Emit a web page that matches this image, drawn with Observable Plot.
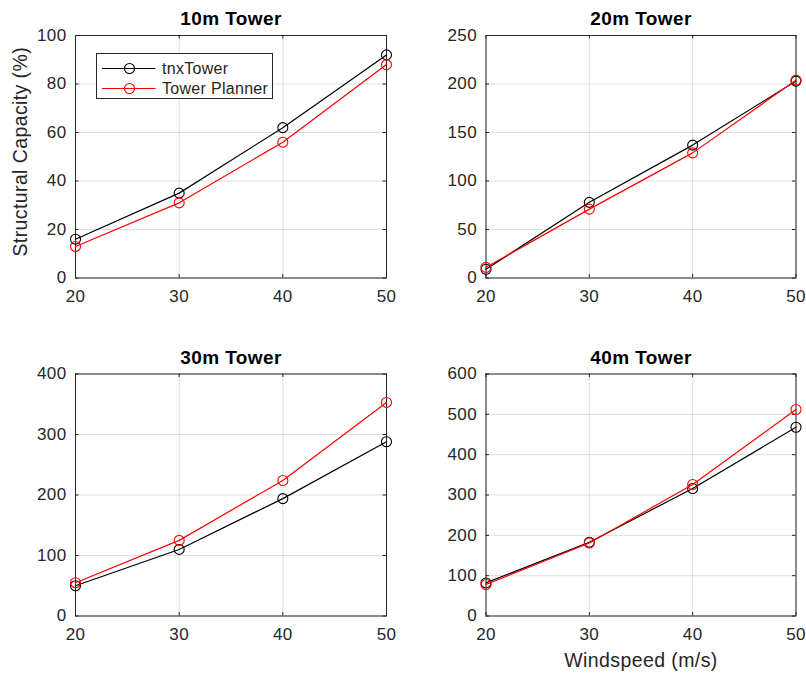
<!DOCTYPE html>
<html><head><meta charset="utf-8">
<script src="https://cdn.jsdelivr.net/npm/d3@7"></script>
<script src="https://cdn.jsdelivr.net/npm/@observablehq/plot@0.6"></script>
<style>
body{margin:0;background:#fff;}
#wrap{position:relative;width:806px;height:673px;background:#fff;font-family:"Liberation Sans",Arial,sans-serif;overflow:hidden;}
.panel{position:absolute;}
.legend{position:absolute;background:#fff;border:1px solid #262626;box-sizing:border-box;}
</style></head><body><div id="wrap"></div>
<script>
// ---- data ----
const windspeeds = [20, 30, 40, 50];
const titles = ["10m Tower", "20m Tower", "30m Tower", "40m Tower"];
const seriesNames = ["tnxTower", "Tower Planner"];
const seriesColors = ["#000000", "#ff0000"];
const tnxTower10 = [16, 35, 62, 92];
const planner10 = [13, 31, 56, 88];
const tnxTower20 = [9, 78, 137, 203];
const planner20 = [11, 71, 129, 204];
const tnxTower30 = [50, 110, 194, 288];
const planner30 = [55, 125, 224, 353];
const tnxTower40 = [82, 183, 316, 468];
const planner40 = [78, 181, 326, 512];
const yDomains = [[0, 100], [0, 250], [0, 400], [0, 600]];
const yTicks = [[0, 20, 40, 60, 80, 100], [0, 50, 100, 150, 200, 250], [0, 100, 200, 300, 400], [0, 100, 200, 300, 400, 500, 600]];
const yLabel = "Structural Capacity (%)";
const xLabel = "Windspeed (m/s)";

const series = [[tnxTower10, planner10], [tnxTower20, planner20], [tnxTower30, planner30], [tnxTower40, planner40]];

// ---- layout ----
const layouts = [
  {left: 0, top: 0, w: 403, h: 336, ml: 75, mr: 17, mt: 35, mb: 58.5},
  {left: 403, top: 0, w: 403, h: 336, ml: 82.5, mr: 10.5, mt: 35, mb: 58.5},
  {left: 0, top: 336, w: 403, h: 337, ml: 75, mr: 17, mt: 37.5, mb: 57.5},
  {left: 403, top: 336, w: 403, h: 337, ml: 82.5, mr: 10.5, mt: 37.5, mb: 57.5}
];
const axisColor = "#262626";
const tickLen = 3.5;
const wrap = document.getElementById("wrap");

layouts.forEach((L, i) => {
  const innerW = L.w - L.ml - L.mr;
  const innerH = L.h - L.mt - L.mb;
  const [tnx, planner] = series[i];
  const marks = [
    Plot.gridX(windspeeds, {stroke: axisColor, strokeOpacity: 0.15}),
    Plot.gridY(yTicks[i], {stroke: axisColor, strokeOpacity: 0.15}),
    Plot.tickX(windspeeds, {x: d => d, stroke: axisColor, insetTop: innerH - tickLen}),
    Plot.tickX(windspeeds, {x: d => d, stroke: axisColor, insetBottom: innerH - tickLen}),
    Plot.tickY(yTicks[i], {y: d => d, stroke: axisColor, insetRight: innerW - tickLen}),
    Plot.tickY(yTicks[i], {y: d => d, stroke: axisColor, insetLeft: innerW - tickLen}),
    Plot.axisX({ticks: windspeeds, tickSize: 0, tickPadding: 12, label: null, tickFormat: d => String(d), fill: axisColor, fontSize: 17}),
    Plot.axisY({ticks: yTicks[i], tickSize: 0, tickPadding: 9, label: null, tickFormat: d => String(d), fill: axisColor, fontSize: 17}),
    Plot.frame({stroke: axisColor, strokeWidth: 1}),
    Plot.line(tnx, {x: (d, j) => windspeeds[j], y: d => d, stroke: seriesColors[0], strokeWidth: 1.2}),
    Plot.dot(tnx, {x: (d, j) => windspeeds[j], y: d => d, stroke: seriesColors[0], fill: "none", r: 5, strokeWidth: 1.1}),
    Plot.line(planner, {x: (d, j) => windspeeds[j], y: d => d, stroke: seriesColors[1], strokeWidth: 1.2}),
    Plot.dot(planner, {x: (d, j) => windspeeds[j], y: d => d, stroke: seriesColors[1], fill: "none", r: 5, strokeWidth: 1.1}),
    Plot.text([titles[i]], {frameAnchor: "top", dy: -10.5, lineAnchor: "bottom", text: d => d, fontWeight: "bold", fontSize: 19, fill: "#000"})
  ];
  if (i === 0) {
    marks.push(Plot.text([yLabel], {frameAnchor: "left", textAnchor: "middle", rotate: -90, dx: -55, dy: -5, lineAnchor: "middle", text: d => d, fontSize: 19.5, fill: axisColor}));
  }
  if (i === 3) {
    marks.push(Plot.text([xLabel], {frameAnchor: "bottom", textAnchor: "middle", dy: 45, lineAnchor: "middle", text: d => d, fontSize: 19.5, fill: axisColor}));
  }
  const chart = Plot.plot({
    width: L.w, height: L.h,
    marginLeft: L.ml, marginRight: L.mr, marginTop: L.mt, marginBottom: L.mb,
    x: {domain: [20, 50]},
    y: {domain: yDomains[i]},
    style: {fontFamily: '"Liberation Sans", Arial, sans-serif', fontSize: "17px", letterSpacing: "0.4px", background: "transparent", overflow: "visible"},
    marks
  });
  const div = document.createElement("div");
  div.className = "panel";
  div.style.left = L.left + "px";
  div.style.top = L.top + "px";
  div.appendChild(chart);
  wrap.appendChild(div);
});

// ---- legend (in the 10m panel) ----
const leg = document.createElement("div");
leg.className = "legend";
leg.style.left = "96px"; leg.style.top = "53px"; leg.style.width = "177px"; leg.style.height = "46px";
const rowsY = [14.5, 34.5];
let svg = '<svg width="175" height="44" xmlns="http://www.w3.org/2000/svg" style="position:absolute;left:0;top:0;font-family:\'Liberation Sans\',Arial,sans-serif;">';
seriesNames.forEach((name, k) => {
  const y = rowsY[k];
  svg += `<line x1="5" x2="58.5" y1="${y}" y2="${y}" stroke="${seriesColors[k]}" stroke-width="1.2"/>`;
  svg += `<circle cx="32.5" cy="${y}" r="5" fill="none" stroke="${seriesColors[k]}" stroke-width="1.1"/>`;
  svg += `<text x="65" y="${y}" dy="0.35em" font-size="16" letter-spacing="0.3" fill="#262626">${name}</text>`;
});
svg += '</svg>';
leg.innerHTML = svg;
wrap.appendChild(leg);
</script>
</body></html>
